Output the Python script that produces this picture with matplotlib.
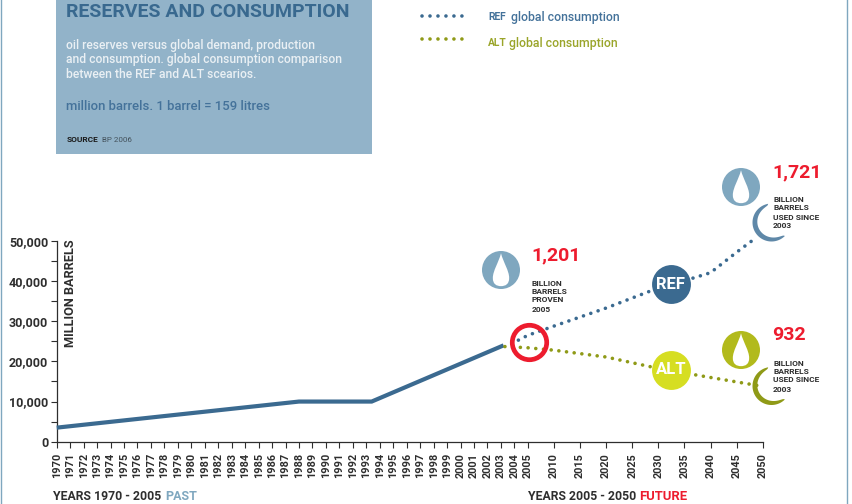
# -*- coding: utf-8 -*-
import matplotlib
matplotlib.use('Agg')
import matplotlib.pyplot as plt
import numpy as np
from matplotlib.patches import Circle, PathPatch, Polygon, Rectangle
from matplotlib.path import Path

plt.rcParams['font.family'] = ['Roboto', 'DejaVu Sans']

past_years = [1970, 1988, 1993.4, 2003.2]
past_vals = [3500, 10000, 10000, 24000]

ref_years = [2004.3, 2005, 2010, 2020, 2030, 2035, 2040, 2045, 2048.2]
ref_vals = [25300, 26500, 28800, 33300, 38300, 40100, 42100, 47200, 50300]

alt_years = [2003.3, 2005, 2010, 2020, 2030, 2040, 2049.5]
alt_vals = [23700, 23400, 22800, 21100, 18250, 16000, 13900]

year_ticks = list(range(1970, 2006)) + list(range(2010, 2051, 5))
val_ticks = [0, 10000, 20000, 30000, 40000, 50000]
val_minor = [5000, 15000, 25000, 35000, 45000]

BLUE = '#3b6a90'
LIGHT = '#7fa7bf'
OLIVE = '#8f9a17'
OLIVE2 = '#b2ba1c'
LIME = '#d6de22'
RED = '#ed1c2e'
DARK = '#2e2e2e'
BOX = '#92b3c9'


# past years are spread wide, future years squeezed
def forward(x):
    x = np.asarray(x, dtype=float)
    return np.where(x <= 2005, x - 1970, 35 + (x - 2005) * 0.3878)


def inverse(x):
    x = np.asarray(x, dtype=float)
    return np.where(x <= 35, x + 1970, 2005 + (x - 35) / 0.3878)


W, H = 852, 504
fig = plt.figure(figsize=(W / 100, H / 100), dpi=100)
ax = fig.add_axes([56.7 / W, 1 - 441.7 / H, 706 / W, 200.7 / H])
ax.set_xscale('function', functions=(forward, inverse))
ax.set_xlim(1970, 2050)
ax.set_ylim(0, 50000)

for s in ['top', 'right']:
    ax.spines[s].set_visible(False)
for s in ['left', 'bottom']:
    ax.spines[s].set_color(DARK)
    ax.spines[s].set_linewidth(0.9)

ax.set_xticks(year_ticks)
ax.set_xticklabels([str(y) for y in year_ticks], rotation=90, fontsize=7.8,
                   fontweight='bold', color=DARK)
ax.xaxis.set_minor_locator(plt.NullLocator())
ax.set_yticks(val_ticks)
ax.set_yticklabels([f'{v:,}' for v in val_ticks], fontsize=9,
                   fontweight='bold', color=DARK)
ax.set_yticks(val_minor, minor=True)
ax.tick_params(axis='x', length=4.5, width=0.8, color=DARK, pad=3.5)
ax.tick_params(axis='y', which='both', length=4, width=0.8, color=DARK, pad=2)

ax.plot(past_years, past_vals, color=BLUE, lw=3, solid_capstyle='butt',
        solid_joinstyle='miter', clip_on=False, zorder=3)
ax.plot(ref_years, ref_vals, color=BLUE, lw=2.6, dashes=(0.01, 2.13),
        dash_capstyle='round', clip_on=False, zorder=3)
ax.plot(alt_years, alt_vals, color=OLIVE, lw=2.6, dashes=(0.01, 2.13),
        dash_capstyle='round', clip_on=False, zorder=3)

# marker circles on the lines
ax.plot([2032.4], [39230], 'o', ms=28, color=BLUE, mew=0, clip_on=False, zorder=5)
ax.plot([2032.4], [17960], 'o', ms=28, color=LIME, mew=0, clip_on=False, zorder=5)
ax.plot([2005.2], [24900], 'o', ms=24.8, mfc='none', mec=RED, mew=3.4,
        clip_on=False, zorder=5)
ax.text(2032.4, 39230, 'REF', color='white', fontsize=12, fontweight='bold',
        ha='center', va='center', zorder=6)
ax.text(2032.4, 17960, 'ALT', color='white', fontsize=12, fontweight='bold',
        ha='center', va='center', zorder=6)

# overlay in pixel coordinates for the infographic parts
ov = fig.add_axes([0, 0, 1, 1], zorder=-1)
ov.set_xlim(0, W)
ov.set_ylim(H, 0)
ov.axis('off')
top = fig.add_axes([0, 0, 1, 1], zorder=10)
top.set_xlim(0, W)
top.set_ylim(H, 0)
top.axis('off')
ax.patch.set_alpha(0)

ov.add_patch(Rectangle((56, -2), 316, 156, color=BOX, lw=0))
ov.plot([0.5, 0.5], [0, H], color=LIGHT, lw=1)
ov.plot([846.5, 846.5], [0, H], color=LIGHT, lw=1)


def txt(x, y, s, size, color=DARK, weight='normal', **kw):
    top.text(x, y, s, fontsize=size, color=color, fontweight=weight,
             ha=kw.pop('ha', 'left'), va=kw.pop('va', 'center'), **kw)


txt(66, 12, 'RESERVES AND CONSUMPTION', 14, '#39698f', 'bold')
txt(66, 46, 'oil reserves versus global demand, production', 8.7, '#eaf0f4', 'medium')
txt(66, 60, 'and consumption. global consumption comparison', 8.7, '#eaf0f4', 'medium')
txt(66, 75, 'between the REF and ALT scearios.', 8.7, '#eaf0f4', 'medium')
txt(66, 106, 'million barrels. 1 barrel = 159 litres', 9.45, '#44729a', 'medium')
txt(67, 140, 'SOURCE', 6, '#1a1a1a', 'bold')
txt(102, 140, 'BP 2006', 5.8, '#44525c')

# legend
top.plot([422, 469], [16, 16], color=BLUE, lw=2.6, dashes=(0.01, 2.2),
         dash_capstyle='round')
top.plot([422, 469], [38.7, 38.7], color=OLIVE, lw=2.6, dashes=(0.01, 2.2),
         dash_capstyle='round')
txt(488, 17.5, 'REF', 7.4, '#44729a', 'bold')
txt(511, 17, 'global consumption', 8.8, '#44729a', 'medium')
txt(488, 43, 'ALT', 7.4, '#9aa52a', 'bold')
txt(509, 43, 'global consumption', 8.8, '#9aa52a', 'medium')

txt(71, 293, 'MILLION BARRELS', 9.2, DARK, 'bold', rotation=90, ha='center')
txt(53, 497, 'YEARS 1970 - 2005', 8.8, DARK, 'bold')
txt(165, 497, 'PAST', 9, LIGHT, 'bold')
txt(528, 497, 'YEARS 2005 - 2050', 8.8, DARK, 'bold')
txt(639, 497, 'FUTURE', 9.4, RED, 'bold')


def drop(cx, cy, r, color):
    top.add_patch(Circle((cx, cy), r, color=color, lw=0))
    tip = (cx, cy - r * 0.88)
    rr = r * 0.43
    by = cy + r * 0.42
    verts = [tip,
             (cx - r * 0.12, cy - r * 0.4), (cx - rr, by - rr * 0.9), (cx - rr, by),
             (cx - rr, by + rr * 0.75), (cx - rr * 0.55, by + rr * 1.0), (cx, by + rr * 1.0),
             (cx + rr * 0.55, by + rr * 1.0), (cx + rr, by + rr * 0.75), (cx + rr, by),
             (cx + rr, by - rr * 0.9), (cx + r * 0.12, cy - r * 0.4), tip]
    codes = [Path.MOVETO] + [Path.CURVE4] * 12
    top.add_patch(PathPatch(Path(verts, codes), color='white', lw=0))


def crescent(cx, cy, r, w, color):
    # thick on the left, running to points at both ends
    u = np.linspace(0, 1, 80)
    ang = np.radians(100 + u * 215)
    t = w * np.sin(np.pi * u) ** 0.4
    ox = cx + r * np.cos(ang)
    oy = cy - r * np.sin(ang)
    ix = cx + (r - t) * np.cos(ang)
    iy = cy - (r - t) * np.sin(ang)
    pts = np.r_[np.c_[ox, oy], np.c_[ix, iy][::-1]]
    top.add_patch(Polygon(pts, closed=True, color=color, lw=0))


drop(501, 270, 19, LIGHT)
drop(741, 187, 19, LIGHT)
drop(741, 350, 19, OLIVE2)
crescent(771.5, 222.5, 19, 5, '#5f88a8')
crescent(771.5, 386, 19, 5, OLIVE)

txt(531, 255.5, '1,201', 14, RED, 'bold')
txt(772, 172.5, '1,721', 14, RED, 'bold')
txt(772, 335.5, '932', 14, RED, 'bold')

for y, s in zip([283, 292, 300, 309], ['BILLION', 'BARRELS', 'PROVEN', '2005']):
    txt(532, y, s, 6, DARK, 'bold')
for y, s in zip([200, 208, 217, 226], ['BILLION', 'BARRELS', 'USED SINCE', '2003']):
    txt(773, y, s, 6, DARK, 'bold')
for y, s in zip([363, 371, 380, 389], ['BILLION', 'BARRELS', 'USED SINCE', '2003']):
    txt(773, y, s, 6, DARK, 'bold')

fig.savefig('out.png', dpi=100, facecolor='white')
